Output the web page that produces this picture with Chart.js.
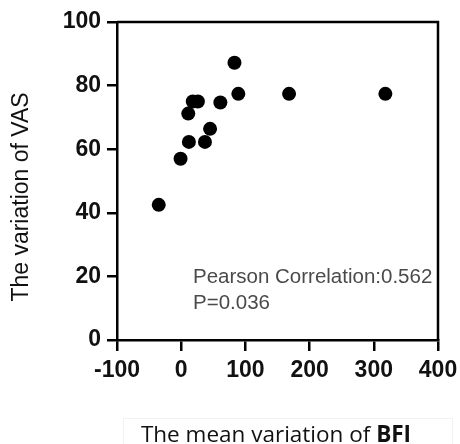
<!DOCTYPE html>
<html>
<head>
<meta charset="utf-8">
<script src="https://cdn.jsdelivr.net/npm/chart.js@4/dist/chart.umd.min.js"></script>
<style>
  html, body { margin: 0; padding: 0; background: #fff; overflow: hidden; }
  #wrap { position: relative; width: 460px; height: 444px; overflow: hidden; }
  #xTitle {
    position: absolute; left: 123px; top: 418px; width: 330px; height: 40px;
    border: 1px solid #f2f2f2; box-sizing: border-box;
    font-family: "Open Sans", sans-serif; font-size: 22.5px; color: #111;
    text-align: center; line-height: 30px; padding: 0 24px 0 0;
    white-space: nowrap;
  }
</style>
</head>
<body>
<div id="wrap">
  <canvas id="scatterCanvas" width="460" height="444"></canvas>
  <div id="xTitle">The mean variation of <b>BFI</b></div>
</div>
<script>
const bfiChange = [-35, -1, 12, 11, 18, 26, 37, 45, 61, 83, 89, 168, 318];
const vasChange = [42.5, 57, 62.3, 71.2, 75, 75, 62.3, 66.4, 74.7, 87.2, 77.4, 77.4, 77.4];
const xTickValues = [-100, 0, 100, 200, 300, 400];
const yTickValues = [0, 20, 40, 60, 80, 100];
const yTitle = 'The variation of VAS';
const statLines = ['Pearson Correlation:0.562', 'P=0.036'];

const points = bfiChange.map((x, i) => ({ x: x, y: vasChange[i] }));

// frame, rotated y title, stats note
const extras = {
    id: 'extras',
    afterDraw(chart) {
        const ctx = chart.ctx, a = chart.chartArea;
        ctx.save();
        ctx.strokeStyle = '#000';
        ctx.lineWidth = 2.5;
        ctx.beginPath();
        ctx.moveTo(a.left, a.top);
        ctx.lineTo(a.right, a.top);
        ctx.lineTo(a.right, a.bottom);
        ctx.stroke();

        ctx.fillStyle = '#111';
        ctx.font = '23px Arial, "Liberation Sans", sans-serif';
        ctx.textAlign = 'center';
        ctx.textBaseline = 'middle';
        ctx.translate(22, 197);
        ctx.rotate(-Math.PI / 2);
        ctx.fillText(yTitle, 0, 0);
        ctx.restore();

        ctx.save();
        ctx.fillStyle = '#4a4a4a';
        ctx.font = '20.5px Arial, "Liberation Sans", sans-serif';
        ctx.textAlign = 'left';
        ctx.textBaseline = 'middle';
        statLines.forEach((t, i) => ctx.fillText(t, a.left + 76, 277 + i * 26));
        ctx.restore();
    }
};

const tickFont = { family: 'Arial, "Liberation Sans", sans-serif', size: 23, weight: 'bold' };

new Chart(document.getElementById('scatterCanvas').getContext('2d'), {
    type: 'scatter',
    data: {
        datasets: [{
            data: points,
            backgroundColor: '#000',
            borderWidth: 0,
            pointRadius: 7,
            pointHoverRadius: 7
        }]
    },
    options: {
        responsive: false,
        animation: false,
        layout: { padding: { left: 0, right: 22, top: 22, bottom: 0 } },
        plugins: { legend: { display: false }, tooltip: { enabled: false } },
        scales: {
            x: {
                min: -100, max: 400,
                afterBuildTicks: s => { s.ticks = xTickValues.map(v => ({ value: v })); },
                afterFit: s => { s.height = 104; s.paddingLeft = 0; s.paddingRight = 0; },
                border: { color: '#000', width: 2.5 },
                grid: { drawOnChartArea: false, drawTicks: true, tickLength: 11, color: '#000', lineWidth: 2.5 },
                ticks: { color: '#111', font: tickFont, padding: 6, maxRotation: 0 }
            },
            y: {
                min: 0, max: 100,
                afterBuildTicks: s => { s.ticks = yTickValues.map(v => ({ value: v })); },
                afterFit: s => { s.width = 117; s.paddingTop = 0; s.paddingBottom = 0; },
                border: { color: '#000', width: 2.5 },
                grid: { drawOnChartArea: false, drawTicks: true, tickLength: 10, color: '#000', lineWidth: 2.5 },
                ticks: { color: '#111', font: tickFont, padding: 6 }
            }
        }
    },
    plugins: [extras]
});
</script>
</body>
</html>
